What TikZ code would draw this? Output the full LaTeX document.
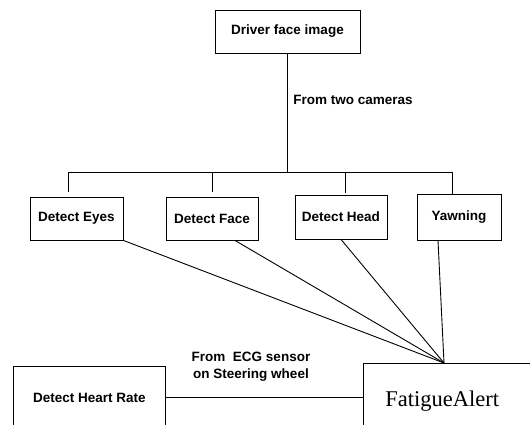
\documentclass[tikz,border=0pt]{standalone}
\usepackage{fontspec}
\setmainfont{Liberation Sans}
\newfontfamily\alertfont{Liberation Serif}
\usepackage{tikz}
\usetikzlibrary{positioning}

\begin{document}
\begin{tikzpicture}[
    x=1pt, y=-1pt,
    line width=0.9pt,
    font=\fontsize{13.5}{17}\selectfont\bfseries,
    block/.style={rectangle, draw, inner sep=+0pt}
    ]
\clip (0,0) rectangle (530,425);

\node[block, minimum width=145pt, minimum height=43pt] (driver) at (287.5,31.5) {Driver face image};
\node[anchor=west, inner sep=+0pt] (cams) at (293,100) {From two cameras};

\node[block, minimum width=93pt, minimum height=43pt] (eyes) at (76.5,218.5) {Detect Eyes};
\node[block, minimum width=92pt, minimum height=43pt] (face) at (212,218.5) {Detect Face};
\node[block, minimum width=92pt, minimum height=44pt] (head) at (341,217) {Detect Head};
\node[block, minimum width=84pt, minimum height=46pt] (yawn) at (459,217) {Yawning};

\node[block, anchor=north west, minimum width=152pt, minimum height=62pt] (heart) at (13,366) {Detect Heart Rate};
\node[block, anchor=north west, minimum height=75pt, inner xsep=22pt, text width=146pt, align=left,
      font=\fontsize{22.5}{27}\selectfont\alertfont] (alert) at (363,363) {FatigueAlert};
\node[align=center, inner sep=+0pt] (ecg) at (251,366.5) {From\ \ ECG sensor\\on Steering wheel};

% tree from the camera image
\coordinate (split) at (287.5,172);
\coordinate (bl) at (68,172);
\coordinate (br) at (452,172);
\coordinate (d1) at (68,192);
\coordinate (d2) at (212,192);
\coordinate (d3) at (345,193);
\coordinate (d4) at (452,194);
\draw (driver) -- (split);
\draw (bl) -- (br);
\draw (bl) -- (d1);
\draw (d2 |- bl) -- (d2);
\draw (d3 |- bl) -- (d3);
\draw (br) -- (d4);

% everything goes into the alert box
\coordinate (hub) at (444,363);
\draw (eyes.south east) -- (hub);
\draw ([xshift=23pt]face.south) -- (hub);
\draw (head.south) -- (hub);
\draw ([xshift=-21pt]yawn.south) -- (hub);
\draw (heart.east) -- (heart.east -| alert.west);

\end{tikzpicture}
\end{document}
